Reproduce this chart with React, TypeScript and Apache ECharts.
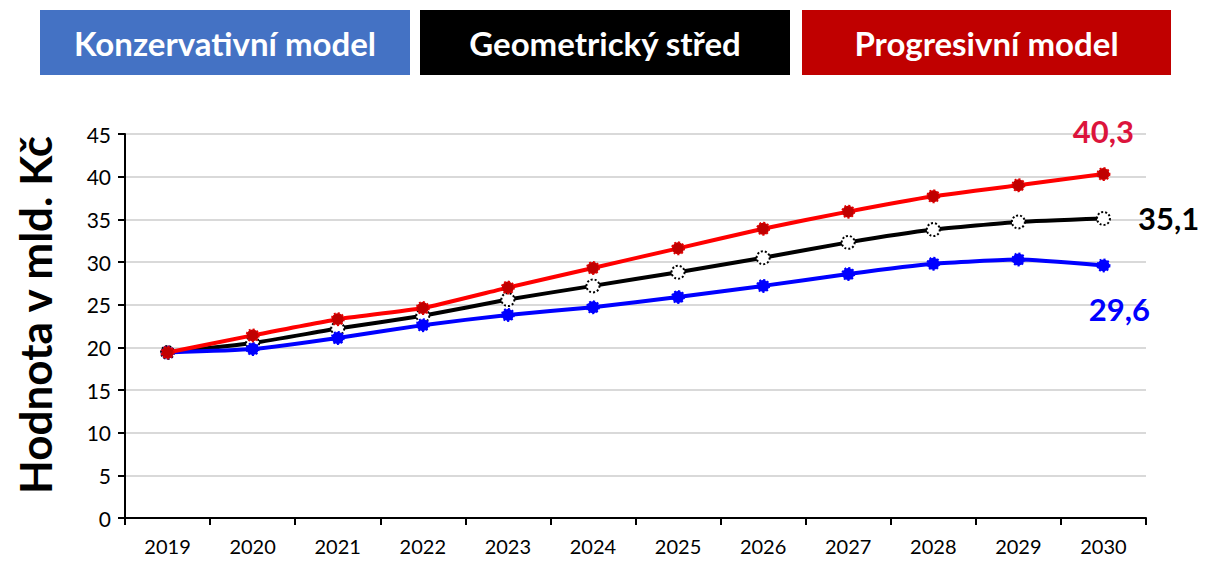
import React, { useEffect, useRef } from "react";
import * as echarts from "echarts";

const years = ["2019","2020","2021","2022","2023","2024","2025","2026","2027","2028","2029","2030"];
const konzervativni = [19.4, 19.8, 21.1, 22.6, 23.8, 24.7, 25.9, 27.2, 28.6, 29.8, 30.3, 29.6];
const geometricky = [19.4, 20.5, 22.2, 23.7, 25.6, 27.2, 28.8, 30.5, 32.3, 33.8, 34.7, 35.1];
const progresivni = [19.4, 21.4, 23.3, 24.6, 27.0, 29.3, 31.6, 33.9, 35.9, 37.7, 39.0, 40.3];
const endLabels = ["29,6", "35,1", "40,3"];
const legendNames = ["Konzervativní model", "Geometrický střed", "Progresivní model"];

const FONT = "Lato, 'Open Sans', sans-serif";

function withEndLabel(values: number[], text: string, color: string, pos: any, offset: number[]) {
  return values.map((v, i) =>
    i === values.length - 1
      ? {
          value: v,
          label: {
            show: true,
            formatter: text,
            position: pos,
            offset,
            color,
            fontSize: 31,
            fontWeight: "bold",
            fontFamily: FONT,
          },
        }
      : v
  );
}

export default function App() {
  const ref = useRef<HTMLDivElement>(null);
  useEffect(() => {
    const chart = echarts.init(ref.current!, undefined, { renderer: "svg" });
    const legendBox = (x: number, w: number, fill: string, text: string) => ({
      type: "group",
      children: [
        { type: "rect", shape: { x, y: 2, width: w, height: 65 }, style: { fill } },
        {
          type: "text",
          x: x + w / 2,
          y: 35,
          style: {
            text,
            fill: "#fff",
            font: `bold 33px ${FONT}`,
            textAlign: "center",
            textVerticalAlign: "middle",
          },
        },
      ],
    });
    chart.setOption({
      animation: false,
      backgroundColor: "#fff",
      graphic: [
        legendBox(32, 370, "#4472c4", legendNames[0]),
        legendBox(412, 370, "#000000", legendNames[1]),
        legendBox(794, 369, "#c00000", legendNames[2]),
        {
          type: "text",
          x: 27,
          y: 307,
          rotation: Math.PI / 2,
          style: {
            text: "Hodnota v mld. Kč",
            fill: "#000",
            font: `bold 44px ${FONT}`,
            textAlign: "center",
            textVerticalAlign: "middle",
          },
        },
      ],
      grid: { left: 117, right: 52, top: 126, bottom: 43 },
      xAxis: {
        type: "category",
        data: years,
        boundaryGap: true,
        axisLine: { lineStyle: { color: "#000", width: 2 } },
        axisTick: { show: true, alignWithLabel: false, length: 7, lineStyle: { color: "#000", width: 2 } },
        axisLabel: { color: "#000", fontSize: 20, fontFamily: FONT, margin: 18 },
        splitLine: { show: false },
      },
      yAxis: {
        type: "value",
        min: 0,
        max: 45,
        interval: 5,
        axisLine: { show: true, lineStyle: { color: "#000", width: 2 } },
        axisTick: { show: true, length: 7, lineStyle: { color: "#000", width: 2 } },
        axisLabel: { color: "#000", fontSize: 21, fontFamily: FONT, margin: 14 },
        splitLine: { show: true, lineStyle: { color: "#d9d9d9", width: 2 } },
      },
      series: [
        {
          name: legendNames[1],
          type: "line",
          smooth: 0.15,
          data: withEndLabel(geometricky, endLabels[1], "#000", "right", [22, 0]),
          lineStyle: { color: "#000", width: 4 },
          itemStyle: { color: "#fff", borderColor: "#000", borderWidth: 2, borderType: "dotted" },
          symbol: "circle",
          symbolSize: 13,
          z: 2,
        },
        {
          name: legendNames[0],
          type: "line",
          smooth: 0.15,
          data: withEndLabel(konzervativni, endLabels[0], "#0000ff", "bottom", [16, 16]),
          lineStyle: { color: "#0000ff", width: 4 },
          itemStyle: { color: "#0000ff", borderColor: "#0000ff", borderWidth: 2, borderType: "dotted" },
          symbol: "circle",
          symbolSize: 12,
          z: 3,
        },
        {
          name: legendNames[2],
          type: "line",
          smooth: 0.15,
          data: withEndLabel(progresivni, endLabels[2], "#dc143c", "top", [0, -16]),
          lineStyle: { color: "#ff0000", width: 4 },
          itemStyle: { color: "#c00000", borderColor: "#e00000", borderWidth: 2, borderType: "dotted" },
          symbol: "circle",
          symbolSize: 12,
          z: 4,
        },
      ],
    });
    return () => chart.dispose();
  }, []);
  return <div ref={ref} style={{ width: 1190, height: 553 }} />;
}
